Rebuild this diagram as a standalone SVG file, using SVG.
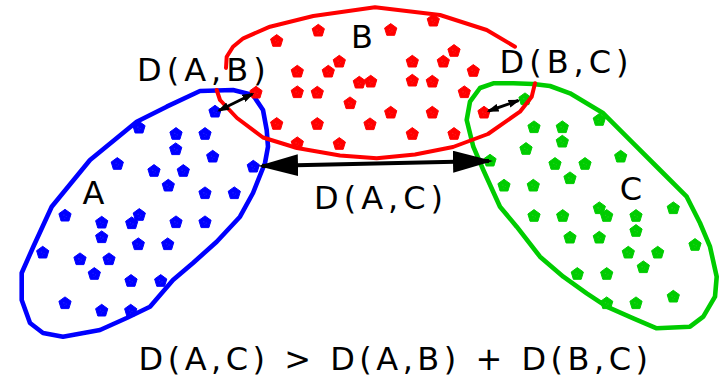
<svg xmlns="http://www.w3.org/2000/svg" xmlns:xlink="http://www.w3.org/1999/xlink" width="720" height="383" viewBox="0 0 720 383">
<style>
.t{font-family:"DejaVu Sans","Liberation Sans",sans-serif;font-size:32px;fill:#000;letter-spacing:5px}
.n{font-family:"DejaVu Sans","Liberation Sans",sans-serif;font-size:32px;fill:#000;text-anchor:middle}
.ol{fill:none;stroke-width:4.6;stroke-linejoin:round;stroke-linecap:round}
.b{fill:#0000ff}.r{fill:#ff0000}.g{fill:#00cc00}
.cb{stroke:#0000ff}.cr{stroke:#ff0000;stroke-width:4}.cg{stroke:#00cc00}
.big{stroke:#000;stroke-width:4;fill:none}
.sm{stroke:#000;stroke-width:3;fill:none}
</style>
<defs>
<g id="dot"><path d="M0,-6.4 L6.1,-2 L3.9,5.3 L-3.9,5.3 L-6.1,-2Z" stroke-width="1" stroke-linejoin="round"/><circle cx="-1.2" cy="-0.6" r="0.6" fill="#fff" fill-opacity="0.6"/><circle cx="1.3" cy="0.8" r="0.55" fill="#fff" fill-opacity="0.6"/><circle cx="-0.3" cy="2.2" r="0.5" fill="#fff" fill-opacity="0.5"/></g>
<marker id="mbig" viewBox="0 0 40 22" refX="36" refY="11" markerWidth="40" markerHeight="22" markerUnits="userSpaceOnUse" orient="auto-start-reverse"><path d="M0,0 L40,11 L0,22Z" fill="#000"/></marker>
<marker id="msm" viewBox="0 0 12 8" refX="10" refY="4" markerWidth="12" markerHeight="8" markerUnits="userSpaceOnUse" orient="auto-start-reverse"><path d="M0,0 L12,4 L0,8Z" fill="#000"/></marker>
</defs>
<rect width="720" height="383" fill="#fff"/>

<g id="clusterA">
<path class="ol cb" d="M200,91 L233,90 L253,95 L263,110 L266.7,130 L268,146.7 L265,163 L253,193 L240,216.7 L216.7,241.7 L193,263 L173,280 L150,306.7 L126.7,318 L100,330 L63,336.7 L43,333 L30,323 L21.7,300 L21.7,273 L33.3,246.7 L51.7,206.7 L90,160 L136.7,121.7 L166.7,106.7 Z"/>
<g class="b" stroke="#0000ff">
<use xlink:href="#dot" x="215" y="111.7"/><use xlink:href="#dot" x="139" y="127.7"/><use xlink:href="#dot" x="176" y="134"/><use xlink:href="#dot" x="205" y="134"/><use xlink:href="#dot" x="175.7" y="149.3"/><use xlink:href="#dot" x="212.7" y="156.7"/><use xlink:href="#dot" x="117.3" y="164"/><use xlink:href="#dot" x="154" y="171"/><use xlink:href="#dot" x="183.3" y="171"/><use xlink:href="#dot" x="253.3" y="166.7"/><use xlink:href="#dot" x="168.3" y="185.7"/><use xlink:href="#dot" x="205" y="193.3"/><use xlink:href="#dot" x="234.3" y="193.3"/><use xlink:href="#dot" x="65" y="215.7"/><use xlink:href="#dot" x="101.7" y="222.7"/><use xlink:href="#dot" x="139.3" y="215"/><use xlink:href="#dot" x="131.7" y="223.3"/><use xlink:href="#dot" x="176" y="222.3"/><use xlink:href="#dot" x="205" y="222.3"/><use xlink:href="#dot" x="101.7" y="237.3"/><use xlink:href="#dot" x="138.3" y="244.3"/><use xlink:href="#dot" x="167.7" y="244.3"/><use xlink:href="#dot" x="42.7" y="252.7"/><use xlink:href="#dot" x="80" y="259.3"/><use xlink:href="#dot" x="109" y="259.3"/><use xlink:href="#dot" x="94.3" y="274"/><use xlink:href="#dot" x="131" y="281"/><use xlink:href="#dot" x="160.7" y="281"/><use xlink:href="#dot" x="65" y="303.3"/><use xlink:href="#dot" x="101.7" y="310.7"/><use xlink:href="#dot" x="130.7" y="310.7"/>
</g>
<text class="n" x="93.5" y="204">A</text>
</g>

<g id="clusterC">
<path class="ol cg" d="M493.3,83.3 L513.3,83.3 L533.3,84 L550,86 L570,93.3 L603.3,113.3 L633.3,143.3 L660,170 L686.7,196.7 L700,223 L710,246.7 L716.7,276.7 L715,296.7 L703.3,316.7 L690,326.7 L656.7,328.3 L633.3,318.3 L606.7,306.7 L586.7,293.3 L563.3,276.7 L540,256.7 L516.7,226.7 L500,206.7 L483.3,170 L473.3,146.7 L466.7,120 L470,101.7 L480,88 Z"/>
<g class="g" stroke="#00cc00">
<use xlink:href="#dot" x="525" y="99.3"/><use xlink:href="#dot" x="534" y="127.3"/><use xlink:href="#dot" x="562.3" y="127.3"/><use xlink:href="#dot" x="599.3" y="120"/><use xlink:href="#dot" x="562.3" y="141.7"/><use xlink:href="#dot" x="526" y="149"/><use xlink:href="#dot" x="490" y="160.7"/><use xlink:href="#dot" x="555" y="164"/><use xlink:href="#dot" x="585" y="164"/><use xlink:href="#dot" x="620.7" y="156.7"/><use xlink:href="#dot" x="570" y="178.3"/><use xlink:href="#dot" x="504" y="185.7"/><use xlink:href="#dot" x="533.3" y="185.7"/><use xlink:href="#dot" x="534" y="216"/><use xlink:href="#dot" x="562.7" y="216"/><use xlink:href="#dot" x="599.3" y="208.3"/><use xlink:href="#dot" x="606.7" y="216"/><use xlink:href="#dot" x="636" y="216"/><use xlink:href="#dot" x="673.3" y="208.3"/><use xlink:href="#dot" x="636" y="231"/><use xlink:href="#dot" x="570" y="237.7"/><use xlink:href="#dot" x="599.3" y="237.7"/><use xlink:href="#dot" x="628.3" y="252.7"/><use xlink:href="#dot" x="657.7" y="252.7"/><use xlink:href="#dot" x="695" y="245"/><use xlink:href="#dot" x="643.3" y="267.3"/><use xlink:href="#dot" x="577.3" y="274"/><use xlink:href="#dot" x="606.7" y="274"/><use xlink:href="#dot" x="673.3" y="296.7"/><use xlink:href="#dot" x="606.7" y="303.3"/><use xlink:href="#dot" x="636" y="303.3"/>
</g>
<text class="n" x="631" y="200">C</text>
</g>

<g id="clusterB">
<path class="ol cr" d="M216.7,90 L220,100 L237,118 L263,137.5 L297,148 L340,155.5 L376.7,158.3 L415,154.5 L453,147 L488,134 L520,111.7 L531.7,96.7 L535,83.3 M515,46.7 L486.7,30 L440,15 L375,7.3 L313.3,16 L270,26.7 L243.3,38.3 L233,46.7 L226.7,56.7 L226,68"/>
<g class="r" stroke="#ff0000">
<use xlink:href="#dot" x="433.3" y="20.7"/><use xlink:href="#dot" x="318.3" y="30.7"/><use xlink:href="#dot" x="390.7" y="30"/><use xlink:href="#dot" x="276.7" y="41"/><use xlink:href="#dot" x="454" y="51"/><use xlink:href="#dot" x="339.3" y="61.7"/><use xlink:href="#dot" x="412.3" y="61.7"/><use xlink:href="#dot" x="443.3" y="61.7"/><use xlink:href="#dot" x="297.3" y="71.7"/><use xlink:href="#dot" x="328.3" y="71.7"/><use xlink:href="#dot" x="473.3" y="71"/><use xlink:href="#dot" x="359.3" y="82.7"/><use xlink:href="#dot" x="370.7" y="81.7"/><use xlink:href="#dot" x="412.3" y="80.7"/><use xlink:href="#dot" x="432.3" y="81.7"/><use xlink:href="#dot" x="256" y="92.7"/><use xlink:href="#dot" x="297.3" y="92.3"/><use xlink:href="#dot" x="317.3" y="92.7"/><use xlink:href="#dot" x="464.3" y="92.3"/><use xlink:href="#dot" x="350" y="103.3"/><use xlink:href="#dot" x="390.7" y="112.7"/><use xlink:href="#dot" x="432.3" y="112.7"/><use xlink:href="#dot" x="484" y="112.7"/><use xlink:href="#dot" x="276.7" y="124"/><use xlink:href="#dot" x="317.3" y="124"/><use xlink:href="#dot" x="370" y="124.3"/><use xlink:href="#dot" x="412.3" y="134"/><use xlink:href="#dot" x="454" y="134"/><use xlink:href="#dot" x="297.3" y="143.3"/><use xlink:href="#dot" x="339.3" y="144"/>
</g>
<text class="n" x="362" y="47.5">B</text>
</g>

<g id="connectors">
<line class="big" x1="262" y1="165.9" x2="489" y2="161" marker-start="url(#mbig)" marker-end="url(#mbig)"/>
<line class="sm" x1="219" y1="110.5" x2="252.5" y2="94" marker-start="url(#msm)" marker-end="url(#msm)"/>
<line class="sm" x1="488.5" y1="111" x2="518.5" y2="100.5" marker-start="url(#msm)" marker-end="url(#msm)"/>
</g>

<g id="labels">
<text class="t" x="137" y="81">D(A,B)</text>
<text class="t" x="499.5" y="73">D(B,C)</text>
<text class="t" x="314" y="208.5">D(A,C)</text>
<text class="t" x="138.5" y="369.5" style="letter-spacing:4.5px">D(A,C) &gt; D(A,B) + D(B,C)</text>
</g>
</svg>
